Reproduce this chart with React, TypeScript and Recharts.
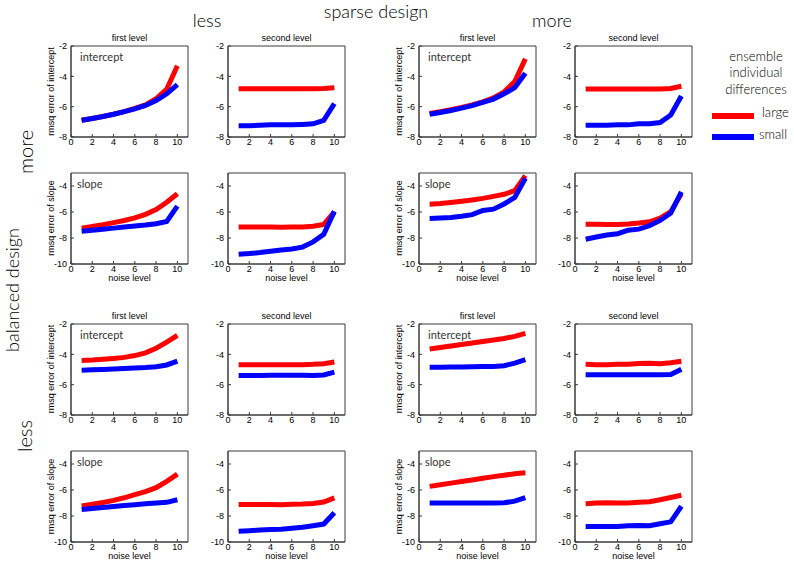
import { LineChart, Line, XAxis, YAxis, ReferenceArea } from "recharts";

const noise = [1, 2, 3, 4, 5, 6, 7, 8, 9, 10];
const xTicks = [0, 2, 4, 6, 8, 10];
const interceptTicks = [-8, -6, -4, -2];
const slopeTicks = [-10, -8, -6, -4];

// sparse design "less", balanced design "more"
const lessMoreFirstIntLarge = [-6.9, -6.78, -6.65, -6.5, -6.33, -6.12, -5.88, -5.48, -4.85, -3.3];
const lessMoreFirstIntSmall = [-6.9, -6.78, -6.65, -6.5, -6.33, -6.15, -5.92, -5.6, -5.15, -4.55];
const lessMoreSecondIntLarge = [-4.82, -4.82, -4.82, -4.82, -4.82, -4.82, -4.82, -4.82, -4.8, -4.75];
const lessMoreSecondIntSmall = [-7.25, -7.25, -7.23, -7.2, -7.2, -7.2, -7.17, -7.13, -6.9, -5.8];
const lessMoreFirstSlopeLarge = [-7.25, -7.12, -6.98, -6.82, -6.65, -6.45, -6.18, -5.82, -5.25, -4.6];
const lessMoreFirstSlopeSmall = [-7.48, -7.4, -7.32, -7.24, -7.16, -7.08, -7.0, -6.9, -6.73, -5.55];
const lessMoreSecondSlopeLarge = [-7.15, -7.15, -7.15, -7.15, -7.17, -7.15, -7.15, -7.1, -6.95, -6.0];
const lessMoreSecondSlopeSmall = [-9.25, -9.2, -9.12, -9.02, -8.92, -8.85, -8.7, -8.3, -7.72, -5.95];

// sparse design "more", balanced design "more"
const moreMoreFirstIntLarge = [-6.45, -6.33, -6.2, -6.05, -5.88, -5.68, -5.42, -5.02, -4.35, -2.85];
const moreMoreFirstIntSmall = [-6.5, -6.38, -6.25, -6.1, -5.93, -5.72, -5.5, -5.15, -4.75, -3.8];
const moreMoreSecondIntLarge = [-4.83, -4.83, -4.83, -4.83, -4.83, -4.83, -4.83, -4.83, -4.8, -4.65];
const moreMoreSecondIntSmall = [-7.22, -7.22, -7.22, -7.2, -7.2, -7.13, -7.12, -7.05, -6.55, -5.3];
const moreMoreFirstSlopeLarge = [-5.4, -5.35, -5.27, -5.18, -5.07, -4.95, -4.8, -4.64, -4.36, -3.2];
const moreMoreFirstSlopeSmall = [-6.5, -6.47, -6.43, -6.33, -6.2, -5.88, -5.78, -5.38, -4.88, -3.4];
const moreMoreSecondSlopeLarge = [-6.95, -6.95, -6.96, -6.96, -6.92, -6.85, -6.75, -6.48, -5.98, -4.6];
const moreMoreSecondSlopeSmall = [-8.1, -7.92, -7.77, -7.67, -7.4, -7.32, -7.06, -6.65, -6.08, -4.45];

// sparse design "less", balanced design "less"
const lessLessFirstIntLarge = [-4.4, -4.38, -4.33, -4.27, -4.2, -4.08, -3.9, -3.6, -3.2, -2.75];
const lessLessFirstIntSmall = [-5.05, -5.02, -5.0, -4.97, -4.93, -4.9, -4.87, -4.82, -4.7, -4.45];
const lessLessSecondIntLarge = [-4.68, -4.68, -4.68, -4.68, -4.68, -4.68, -4.68, -4.66, -4.62, -4.5];
const lessLessSecondIntSmall = [-5.4, -5.4, -5.39, -5.38, -5.38, -5.38, -5.38, -5.4, -5.36, -5.17];
const lessLessFirstSlopeLarge = [-7.22, -7.1, -6.96, -6.8, -6.6, -6.36, -6.13, -5.82, -5.33, -4.78];
const lessLessFirstSlopeSmall = [-7.5, -7.43, -7.35, -7.27, -7.2, -7.13, -7.06, -7.0, -6.95, -6.75];
const lessLessSecondSlopeLarge = [-7.12, -7.12, -7.12, -7.12, -7.13, -7.1, -7.08, -7.04, -6.92, -6.6];
const lessLessSecondSlopeSmall = [-9.17, -9.13, -9.08, -9.04, -9.02, -8.95, -8.87, -8.75, -8.62, -7.75];

// sparse design "more", balanced design "less"
const moreLessFirstIntLarge = [-3.65, -3.55, -3.45, -3.35, -3.25, -3.15, -3.05, -2.95, -2.82, -2.62];
const moreLessFirstIntSmall = [-4.85, -4.85, -4.84, -4.83, -4.82, -4.8, -4.8, -4.75, -4.58, -4.35];
const moreLessSecondIntLarge = [-4.65, -4.68, -4.68, -4.66, -4.65, -4.6, -4.58, -4.62, -4.55, -4.45];
const moreLessSecondIntSmall = [-5.35, -5.35, -5.35, -5.35, -5.35, -5.35, -5.35, -5.35, -5.33, -4.98];
const moreLessFirstSlopeLarge = [-5.72, -5.6, -5.47, -5.35, -5.23, -5.1, -4.97, -4.86, -4.75, -4.67];
const moreLessFirstSlopeSmall = [-7.0, -7.0, -7.0, -7.0, -7.0, -7.0, -7.0, -6.98, -6.86, -6.58];
const moreLessSecondSlopeLarge = [-7.05, -7.0, -6.98, -7.0, -7.0, -6.95, -6.9, -6.75, -6.58, -6.4];
const moreLessSecondSlopeSmall = [-8.8, -8.8, -8.8, -8.8, -8.75, -8.73, -8.75, -8.6, -8.45, -7.25];

const RED = "#ff0000";
const BLUE = "#0000ff";
const AXIS = "#3a3a3a";
const LABEL_FONT = "Lato, 'Open Sans', sans-serif";
const TICK_FONT = "'Liberation Sans', Arial, sans-serif";

// plot-area placement (page px)
const COLS = [71, 228, 419, 575];
const ROWS = [46, 172.5, 323.5, 451];
const PW = 117;
const PH = 91;
const ML = 50;
const MT = 10;
const MR = 10;
const MB = 30;

type Kind = "intercept" | "slope";

const panels: { row: number; col: number; kind: Kind; large: number[]; small: number[] }[] = [
  { row: 0, col: 0, kind: "intercept", large: lessMoreFirstIntLarge, small: lessMoreFirstIntSmall },
  { row: 0, col: 1, kind: "intercept", large: lessMoreSecondIntLarge, small: lessMoreSecondIntSmall },
  { row: 1, col: 0, kind: "slope", large: lessMoreFirstSlopeLarge, small: lessMoreFirstSlopeSmall },
  { row: 1, col: 1, kind: "slope", large: lessMoreSecondSlopeLarge, small: lessMoreSecondSlopeSmall },
  { row: 0, col: 2, kind: "intercept", large: moreMoreFirstIntLarge, small: moreMoreFirstIntSmall },
  { row: 0, col: 3, kind: "intercept", large: moreMoreSecondIntLarge, small: moreMoreSecondIntSmall },
  { row: 1, col: 2, kind: "slope", large: moreMoreFirstSlopeLarge, small: moreMoreFirstSlopeSmall },
  { row: 1, col: 3, kind: "slope", large: moreMoreSecondSlopeLarge, small: moreMoreSecondSlopeSmall },
  { row: 2, col: 0, kind: "intercept", large: lessLessFirstIntLarge, small: lessLessFirstIntSmall },
  { row: 2, col: 1, kind: "intercept", large: lessLessSecondIntLarge, small: lessLessSecondIntSmall },
  { row: 3, col: 0, kind: "slope", large: lessLessFirstSlopeLarge, small: lessLessFirstSlopeSmall },
  { row: 3, col: 1, kind: "slope", large: lessLessSecondSlopeLarge, small: lessLessSecondSlopeSmall },
  { row: 2, col: 2, kind: "intercept", large: moreLessFirstIntLarge, small: moreLessFirstIntSmall },
  { row: 2, col: 3, kind: "intercept", large: moreLessSecondIntLarge, small: moreLessSecondIntSmall },
  { row: 3, col: 2, kind: "slope", large: moreLessFirstSlopeLarge, small: moreLessFirstSlopeSmall },
  { row: 3, col: 3, kind: "slope", large: moreLessSecondSlopeLarge, small: moreLessSecondSlopeSmall },
];

function Panel({ row, col, kind, large, small }: { row: number; col: number; kind: Kind; large: number[]; small: number[] }) {
  const data = noise.map((x, i) => ({ x, large: large[i], small: small[i] }));
  const domain = kind === "intercept" ? [-8, -2] : [-10, -3];
  const yTicks = kind === "intercept" ? interceptTicks : slopeTicks;
  const tick = { fontSize: 9, fill: "#000", fontFamily: TICK_FONT };
  const line = { stroke: AXIS, strokeWidth: 1 };
  return (
    <div style={{ position: "absolute", left: COLS[col] - ML, top: ROWS[row] - MT }}>
      <LineChart
        width={PW + ML + MR}
        height={PH + MT + MB}
        data={data}
        margin={{ top: MT, right: MR, bottom: 0, left: 0 }}
      >
        <XAxis
          xAxisId="b"
          type="number"
          dataKey="x"
          domain={[0, 11]}
          ticks={xTicks}
          interval={0}
          height={MB}
          tickSize={-3}
          tickMargin={5}
          axisLine={line}
          tickLine={line}
          tick={tick}
        />
        <XAxis
          xAxisId="t"
          orientation="top"
          type="number"
          dataKey="x"
          domain={[0, 11]}
          ticks={xTicks}
          interval={0}
          height={0}
          tickSize={-3}
          axisLine={false}
          tickLine={line}
          tick={false}
        />
        <YAxis
          yAxisId="l"
          type="number"
          domain={domain}
          ticks={yTicks}
          interval={0}
          width={ML}
          tickSize={-3}
          tickMargin={7}
          axisLine={line}
          tickLine={line}
          tick={tick}
        />
        <YAxis
          yAxisId="r"
          orientation="right"
          type="number"
          domain={domain}
          ticks={yTicks}
          interval={0}
          width={0}
          tickSize={-3}
          axisLine={false}
          tickLine={line}
          tick={false}
        />
        <ReferenceArea
          xAxisId="b"
          yAxisId="l"
          x1={0}
          x2={11}
          y1={domain[0]}
          y2={domain[1]}
          fill="none"
          fillOpacity={0}
          stroke={AXIS}
          strokeWidth={1}
          ifOverflow="visible"
        />
        <Line
          xAxisId="b"
          yAxisId="l"
          type="linear"
          dataKey="large"
          stroke={RED}
          strokeWidth={5}
          dot={false}
          isAnimationActive={false}
        />
        <Line
          xAxisId="b"
          yAxisId="l"
          type="linear"
          dataKey="small"
          stroke={BLUE}
          strokeWidth={5}
          dot={false}
          isAnimationActive={false}
        />
      </LineChart>
    </div>
  );
}

function Overlay() {
  const small = { fontFamily: TICK_FONT, fontSize: 9, fill: "#000" };
  const big = { fontFamily: LABEL_FONT, fill: "#000", fontWeight: 300 };
  const inner = { fontFamily: LABEL_FONT, fill: "#333", fontWeight: 400 };
  const cx = (c: number) => COLS[c] + PW / 2;
  const cy = (r: number) => ROWS[r] + PH / 2;
  return (
    <svg
      width={794}
      height={562}
      style={{ position: "absolute", left: 0, top: 0, pointerEvents: "none" }}
    >
      <text x={376} y={18} textAnchor="middle" fontSize={18} {...big}>
        sparse design
      </text>
      <text x={207} y={27} textAnchor="middle" fontSize={18} {...big}>
        less
      </text>
      <text x={552} y={27} textAnchor="middle" fontSize={18} {...big}>
        more
      </text>
      <text transform="translate(33,152) rotate(-90)" textAnchor="middle" fontSize={20} {...big}>
        more
      </text>
      <text transform="translate(19,290) rotate(-90)" textAnchor="middle" fontSize={18} {...big}>
        balanced design
      </text>
      <text transform="translate(32,436) rotate(-90)" textAnchor="middle" fontSize={20} {...big}>
        less
      </text>

      {[0, 2].map((r) =>
        [0, 1, 2, 3].map((c) => (
          <text key={`t${r}${c}`} x={cx(c)} y={ROWS[r] - 5} textAnchor="middle" {...small}>
            {c % 2 === 0 ? "first level" : "second level"}
          </text>
        ))
      )}
      {[1, 3].map((r) =>
        [0, 1, 2, 3].map((c) => (
          <text key={`n${r}${c}`} x={cx(c)} y={ROWS[r] + PH + 17} textAnchor="middle" {...small}>
            noise level
          </text>
        ))
      )}
      {[0, 1, 2, 3].map((r) =>
        [0, 2].map((c) => (
          <text
            key={`y${r}${c}`}
            transform={`translate(${COLS[c] - 17},${cy(r)}) rotate(-90)`}
            textAnchor="middle"
            {...small}
          >
            {r % 2 === 0 ? "rmsq error of intercept" : "rmsq error of slope"}
          </text>
        ))
      )}
      {[0, 1, 2, 3].map((r) =>
        [0, 2].map((c) => (
          <text key={`k${r}${c}`} x={COLS[c] + (r % 2 === 0 ? 9 : 6)} y={ROWS[r] + 15} fontSize={11} {...inner}>
            {r % 2 === 0 ? "intercept" : "slope"}
          </text>
        ))
      )}

      <text x={756} y={61} textAnchor="middle" fontSize={13} {...big}>
        ensemble
      </text>
      <text x={756} y={77} textAnchor="middle" fontSize={13} {...big}>
        individual
      </text>
      <text x={756} y={93.5} textAnchor="middle" fontSize={13} {...big}>
        differences
      </text>
      <rect x={712} y={113} width={42} height={6} fill={RED} />
      <text x={762} y={117} fontSize={13} {...big}>
        large
      </text>
      <rect x={712} y={134} width={42} height={6} fill={BLUE} />
      <text x={759} y={139} fontSize={13} {...big}>
        small
      </text>
    </svg>
  );
}

export default function App() {
  return (
    <div
      style={{
        position: "absolute",
        left: 0,
        top: 0,
        width: 794,
        height: 562,
        background: "#fff",
        overflow: "hidden",
        fontFamily: TICK_FONT,
      }}
    >
      {panels.map((p) => (
        <Panel key={`${p.row}-${p.col}`} {...p} />
      ))}
      <Overlay />
    </div>
  );
}
